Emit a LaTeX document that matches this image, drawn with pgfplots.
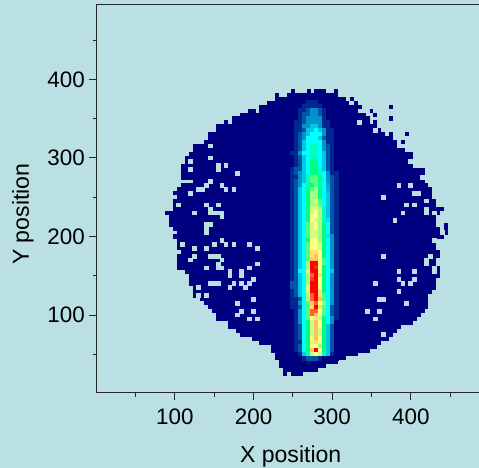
\documentclass[border=0pt]{standalone}
\usepackage{pgfplots}
\usepackage{pgfplotstable}
\pgfplotsset{compat=1.18}
\usepackage{fontspec}
\setmainfont{Liberation Sans}
\definecolor{bgc}{RGB}{186,224,227}
\definecolor{navyc}{RGB}{0,0,128}
\pgfplotstableread{
y l r
385 250 250
385 270 270
385 280 290
385 305 305
380 230 230
380 245 305
375 230 315
375 325 325
370 220 330
365 210 335
365 375 375
360 195 200
360 210 330
360 350 350
355 185 340
355 355 355
350 175 345
350 375 375
345 165 165
345 175 345
345 355 355
340 155 355
335 155 360
330 145 365
330 375 375
330 395 395
325 145 375
320 140 380
320 390 390
315 125 380
310 125 390
305 120 400
300 115 400
295 115 400
290 110 400
285 110 415
280 110 415
275 110 415
270 125 415
265 110 420
260 105 425
255 100 425
250 105 425
245 100 430
240 100 430
235 100 440
230 90 435
225 95 430
220 95 430
215 95 430
215 445 445
210 100 435
210 445 445
205 105 445
200 100 440
195 105 430
190 105 430
185 105 430
180 110 435
175 105 435
170 105 430
165 105 430
160 105 435
155 115 435
150 120 435
145 120 430
140 120 430
135 125 430
130 125 425
125 125 420
120 135 420
115 140 420
110 145 420
105 150 415
100 155 410
95 155 405
90 170 400
85 170 385
80 180 380
75 185 375
70 200 370
65 210 360
60 225 355
55 225 345
50 230 330
45 230 315
40 235 305
35 235 290
30 240 280
25 240 240
25 250 260
}\spans
\pgfplotstableread{
x y
325 370
335 345
355 335
145 315
145 300
120 295
400 295
155 290
165 290
120 285
155 285
180 280
415 275
145 270
140 265
160 265
385 265
400 265
130 260
135 260
165 260
175 260
120 255
405 255
410 255
365 250
420 245
105 240
140 240
155 240
395 240
405 240
145 235
125 230
145 230
150 230
155 230
160 230
420 235
420 230
430 230
390 230
160 225
380 220
140 215
145 215
140 210
140 205
440 205
160 195
430 195
110 190
150 190
165 190
175 190
195 190
125 185
140 185
205 185
125 175
145 175
150 175
155 175
365 175
425 175
120 170
160 170
420 170
155 165
205 165
420 165
140 160
155 160
160 160
195 160
430 160
170 155
185 155
385 155
405 155
430 155
170 150
185 150
200 145
385 145
405 145
145 140
150 140
155 140
175 140
185 140
195 140
355 140
390 140
400 140
130 135
170 135
190 135
385 130
130 125
140 125
200 120
360 120
365 120
180 115
395 115
185 105
200 105
345 105
360 105
180 100
195 95
205 95
355 95
365 75
}\holes
\pgfplotstableread{
y c250 c255 c260 c265 c270 c275 c280 c285 c290 c295 c300 c305
370 0 0 0 0 1 1 1 0 0 0 0 0
365 0 0 0 1 1 1 1 1 0 0 0 0
360 0 0 1 1 2 3 3 2 1 0 0 0
355 0 0 1 2 2 3 3 2 1 0 0 0
350 0 0 1 2 3 3 3 3 1 0 0 0
345 0 1 1 2 3 3 3 3 1 1 0 0
340 0 1 1 3 3 4 4 3 1 1 0 0
335 0 1 1 2 4 4 5 4 3 1 1 0
330 0 1 2 3 4 5 5 5 3 1 1 0
325 0 1 2 3 5 5 5 4 2 1 1 0
320 0 1 2 4 5 5 5 5 3 1 1 0
315 0 1 2 4 5 5.5 5.5 5 3 2 1 0
310 0 1 2 4 5 5.5 5.5 5 3 2 1 0
305 1 1 3 5 5 5.5 5.5 5 4 2 1 0
300 0 1 2 4 5 5.5 5.5 5 4 2 1 0
295 0 1 2 4 5 6 6 5 4 2 1 0
290 0 1 2 4 5 6 6 5 4 2 1 0
285 1 2 2 4 5 6 6 5.5 4 2 1 0
280 1 2 3 4 5 6 6 5.5 5 3 1 1
275 1 1 3 4 5.5 6.5 6.5 6 5 3 2 1
270 1 2 3 4 5.5 6.5 6.5 6 5 3 2 1
265 1 2 3 5 5.5 6 6.5 5.5 5 3.5 2 1
260 1 2 4 5 6 6.5 7 6 5 3.5 2 1
255 1 2 4 5 6 7 7 6 5 4 2 1
250 1 2 4 5 6 7 7 6 5 4 2 1
245 1 2 4 5 6 7 7.5 6.5 5 4 2 1
240 1 2 4 5 6 7 7 6.5 5 4 2 1
235 1 2 4 5 6 7.5 7.5 7 5.5 4 2 1
230 1 2 4 5 6 7.5 8 7 5.5 4 2 1
225 1 2 4 5 6 8 8 7 5.5 4 2 1
220 1 2 4 5 6 8 7.5 7 5.5 4.5 2 1
215 1 2 4 5 6.5 7.5 8 7 6 5 2 1
210 1 2 4 5 6.5 7.5 8 7 6 5 2 1
205 1 2 4 5 6.5 7.5 7.5 7 6 5 2 1
200 1 2 4 5 6.5 7.5 7.5 7 6 4.5 3 1
195 1 2 4 5 6 8 8 7 6 5 3 1
190 1 2 4 5 6.5 8 8 7.5 6 5 3 1
185 1 2 4 5 6.5 8 8 7.5 6 5 3 1
180 1 2 4 5 6.5 8.5 8.5 8 6 5 3 1
175 1 2 4 5 6.5 8.5 9 8 6 5 3 1
170 1 2 4 5 6.5 9 9 8 6.5 5 3 1
165 1 2 4 5 7 10 10 8 6.5 5 3 1
160 1 2 4 5 7 10 9.8 8 6 5 3 1
155 1 2 5 5 7.5 10 10 8 6 5 4 1
150 1 2 4 5 7 9.5 10 8.5 6 5 3 1
145 1 2 4 5 7 9.7 10 8 6 5 3 1
140 2 2 4 5 7 10 10 8 6 5 3 1
135 2 2 4 5 7.5 10 10 8 6 5 3 1
130 1 2 4 5 7.5 10 10 8.5 6 5 3 1
125 1 2 4 5 7 9.5 10 8.5 6.5 5 3 1
120 1 1 2 5 7 9.5 10 9 6.5 5 3 1
115 1 1 3 5 6.5 9 9.5 8 7 5 3 1
110 1 1 2 5 6.5 8.5 10 8.5 6.5 5 2 1
105 0 1 3 5 6.5 9.5 9.5 8 6.5 5 2 1
100 0 1 3 5 6.5 9.5 9 8 6.5 5 2 1
95 0 1 3 5 6.5 8 8.5 7.5 6 5 3 1
90 0 1 3 5 6 7.5 9 8 6 5 3 0
85 0 1 2 5 6 7.5 9 8 6 4 2 0
80 0 1 2 5 6 7.5 9 7.5 6 4 2 0
75 0 1 2 5 6 7.5 9 7.5 6 4 2 0
70 0 1 2 5 6 8 9 8 6 4 2 0
65 0 1 1 5 6 7.5 8.5 8 6 4 2 0
60 0 1 2 5 6 8 8 7 6 4 2 0
55 0 1 2 5 6 9 10 8 6 4 2 0
50 0 0 1 4 5.5 7.5 8 7.5 5.5 4 1 0
45 0 0 0 1 2 2 2 1 0 0 0 0
}\core
\begin{document}
\begin{tikzpicture}[x=1pt,y=1pt]
\useasboundingbox (-72.525,-56.475) rectangle (286.725,294.525);
\fill[bgc] (-72.525,-56.475) rectangle (286.725,294.525);
\clip (-72.525,-56.475) rectangle (286.725,294.525);
\begin{axis}[
  at={(0,0)}, anchor=south west,
  scale only axis, width=291pt, height=291pt,
  xmin=0.5, xmax=494, ymin=1.2, ymax=495,
  axis on top,
  axis line style={line width=1pt, color=black!85},
  xtick={100,200,300,400}, ytick={100,200,300,400},
  minor xtick={50,150,250,350,450}, minor ytick={50,150,250,350,450},
  tick align=outside, tick pos=left,
  major tick length=5.4pt, minor tick length=3pt,
  tick style={line width=0.8pt, color=black!85},
  ticklabel style={font=\fontsize{16.8}{18}\selectfont},
  xticklabel style={yshift=-3pt},
  /pgf/number format/assume math mode=true,
  xlabel={X position}, ylabel={Y position},
  label style={font=\fontsize{17.3}{19}\selectfont},
  xlabel style={at={(axis description cs:0.5,-0.165)}, anchor=center},
  ylabel style={at={(axis description cs:-0.19,0.46)}, anchor=center},
  colormap={heat}{rgb255=(0,0,128) rgb255=(0,40,144) rgb255=(0,84,170) rgb255=(0,148,200) rgb255=(0,200,228) rgb255=(0,255,255) rgb255=(0,255,128) rgb255=(160,255,128) rgb255=(255,255,128) rgb255=(255,192,96) rgb255=(255,0,0)},
  point meta min=0, point meta max=10,
]
\addplot[forget plot, no marks, draw=none,
  error bars/.cd, x dir=plus, x explicit, error mark=none,
  error bar style={line width=3.2pt, color=navyc}]
  table[x expr=\thisrow{l}-2.5, y=y, x error plus expr=\thisrow{r}-\thisrow{l}+5] {\spans};
\addplot[forget plot, only marks, mark=square*, mark size=1.4pt,
  mark options={draw=bgc, fill=bgc, line width=0pt}] table[x=x,y=y] {\holes};
\pgfplotsinvokeforeach{250,255,260,265,270,275,280,285,290,295,300,305}{
\addplot[forget plot, scatter, only marks, mark=square*, mark size=1.5pt,
  point meta=explicit, scatter/use mapped color={draw=mapped color, fill=mapped color},
  mark options={line width=0pt}]
  table[x expr=#1, y=y, meta=c#1] {\core};
}
\end{axis}
\end{tikzpicture}
\end{document}
